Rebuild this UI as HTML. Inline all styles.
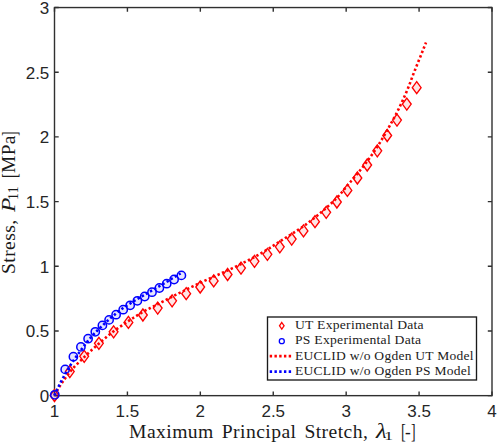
<!DOCTYPE html>
<html><head><meta charset="utf-8"><title>Stress-stretch</title>
<style>
html,body{margin:0;padding:0;background:#fff;}
body{width:498px;height:444px;position:relative;overflow:hidden;font-family:"Liberation Sans",sans-serif;color:#262626;}
.t{position:absolute;white-space:nowrap;line-height:1;}
.xt{font-size:17px;transform:translateX(-50%);top:403px;}
.yt{font-size:17px;text-align:right;right:448.7px;transform:translateY(-50%);}
.p{font-family:"Liberation Serif",serif;color:#1a1a1a;transform-origin:0 0;}
.p i{font-style:italic;}
#ylab{position:absolute;left:0;top:273px;width:160px;height:24px;transform:rotate(-90deg);transform-origin:0 0;}
</style></head><body>
<svg width="498" height="444" viewBox="0 0 498 444" style="position:absolute;left:0;top:0">
<rect x="0" y="0" width="498" height="444" fill="#fff"/>
<rect x="54.50" y="7.55" width="437.50" height="388.10" fill="none" stroke="#303030" stroke-width="1.4"/>
<path d="M54.50 395.65 v-4.20 M54.50 7.55 v4.20 M54.50 395.65 h4.20 M492.00 395.65 h-4.20 M127.42 395.65 v-4.20 M127.42 7.55 v4.20 M54.50 330.97 h4.20 M492.00 330.97 h-4.20 M200.33 395.65 v-4.20 M200.33 7.55 v4.20 M54.50 266.28 h4.20 M492.00 266.28 h-4.20 M273.25 395.65 v-4.20 M273.25 7.55 v4.20 M54.50 201.60 h4.20 M492.00 201.60 h-4.20 M346.17 395.65 v-4.20 M346.17 7.55 v4.20 M54.50 136.92 h4.20 M492.00 136.92 h-4.20 M419.08 395.65 v-4.20 M419.08 7.55 v4.20 M54.50 72.23 h4.20 M492.00 72.23 h-4.20 M492.00 395.65 v-4.20 M492.00 7.55 v4.20 M54.50 7.55 h4.20 M492.00 7.55 h-4.20" stroke="#303030" stroke-width="1.4" fill="none"/>
<path d="M54.50 389.50 L58.90 395.50 L54.50 401.50 L50.10 395.50 Z M69.80 365.60 L74.20 371.60 L69.80 377.60 L65.40 371.60 Z M84.20 350.30 L88.60 356.30 L84.20 362.30 L79.80 356.30 Z M98.90 337.30 L103.30 343.30 L98.90 349.30 L94.50 343.30 Z M113.60 325.80 L118.00 331.80 L113.60 337.80 L109.20 331.80 Z M128.40 316.40 L132.80 322.40 L128.40 328.40 L124.00 322.40 Z M142.90 309.00 L147.30 315.00 L142.90 321.00 L138.50 315.00 Z M157.70 302.10 L162.10 308.10 L157.70 314.10 L153.30 308.10 Z M172.10 294.80 L176.50 300.80 L172.10 306.80 L167.70 300.80 Z M186.20 287.70 L190.60 293.70 L186.20 299.70 L181.80 293.70 Z M200.20 281.00 L204.60 287.00 L200.20 293.00 L195.80 287.00 Z M213.70 274.90 L218.10 280.90 L213.70 286.90 L209.30 280.90 Z M227.60 268.50 L232.00 274.50 L227.60 280.50 L223.20 274.50 Z M241.00 262.10 L245.40 268.10 L241.00 274.10 L236.60 268.10 Z M254.50 255.30 L258.90 261.30 L254.50 267.30 L250.10 261.30 Z M267.40 248.30 L271.80 254.30 L267.40 260.30 L263.00 254.30 Z M279.80 240.80 L284.20 246.80 L279.80 252.80 L275.40 246.80 Z M291.70 233.10 L296.10 239.10 L291.70 245.10 L287.30 239.10 Z M303.50 224.90 L307.90 230.90 L303.50 236.90 L299.10 230.90 Z M315.00 215.70 L319.40 221.70 L315.00 227.70 L310.60 221.70 Z M326.20 206.30 L330.60 212.30 L326.20 218.30 L321.80 212.30 Z M336.90 196.00 L341.30 202.00 L336.90 208.00 L332.50 202.00 Z M347.40 184.40 L351.80 190.40 L347.40 196.40 L343.00 190.40 Z M357.40 172.00 L361.80 178.00 L357.40 184.00 L353.00 178.00 Z M367.20 159.00 L371.60 165.00 L367.20 171.00 L362.80 165.00 Z M377.30 144.80 L381.70 150.80 L377.30 156.80 L372.90 150.80 Z M387.20 129.50 L391.60 135.50 L387.20 141.50 L382.80 135.50 Z M397.00 114.10 L401.40 120.10 L397.00 126.10 L392.60 120.10 Z M406.80 98.10 L411.20 104.10 L406.80 110.10 L402.40 104.10 Z M416.70 81.70 L421.10 87.70 L416.70 93.70 L412.30 87.70 Z" fill="rgba(255,0,0,0.10)" stroke="#ff0000" stroke-width="1.35" stroke-linejoin="miter"/>
<circle cx="54.80" cy="394.80" r="4.15" fill="rgba(0,0,255,0.10)" stroke="#0000ff" stroke-width="1.5"/>
<circle cx="65.20" cy="369.40" r="4.15" fill="rgba(0,0,255,0.10)" stroke="#0000ff" stroke-width="1.5"/>
<circle cx="73.40" cy="356.70" r="4.15" fill="rgba(0,0,255,0.10)" stroke="#0000ff" stroke-width="1.5"/>
<circle cx="80.90" cy="346.90" r="4.15" fill="rgba(0,0,255,0.10)" stroke="#0000ff" stroke-width="1.5"/>
<circle cx="88.10" cy="338.70" r="4.15" fill="rgba(0,0,255,0.10)" stroke="#0000ff" stroke-width="1.5"/>
<circle cx="95.30" cy="331.80" r="4.15" fill="rgba(0,0,255,0.10)" stroke="#0000ff" stroke-width="1.5"/>
<circle cx="102.40" cy="325.40" r="4.15" fill="rgba(0,0,255,0.10)" stroke="#0000ff" stroke-width="1.5"/>
<circle cx="109.10" cy="319.90" r="4.15" fill="rgba(0,0,255,0.10)" stroke="#0000ff" stroke-width="1.5"/>
<circle cx="116.10" cy="314.70" r="4.15" fill="rgba(0,0,255,0.10)" stroke="#0000ff" stroke-width="1.5"/>
<circle cx="123.20" cy="309.70" r="4.15" fill="rgba(0,0,255,0.10)" stroke="#0000ff" stroke-width="1.5"/>
<circle cx="130.20" cy="305.30" r="4.15" fill="rgba(0,0,255,0.10)" stroke="#0000ff" stroke-width="1.5"/>
<circle cx="137.40" cy="300.80" r="4.15" fill="rgba(0,0,255,0.10)" stroke="#0000ff" stroke-width="1.5"/>
<circle cx="144.70" cy="296.50" r="4.15" fill="rgba(0,0,255,0.10)" stroke="#0000ff" stroke-width="1.5"/>
<circle cx="152.00" cy="292.20" r="4.15" fill="rgba(0,0,255,0.10)" stroke="#0000ff" stroke-width="1.5"/>
<circle cx="159.40" cy="288.00" r="4.15" fill="rgba(0,0,255,0.10)" stroke="#0000ff" stroke-width="1.5"/>
<circle cx="166.70" cy="283.70" r="4.15" fill="rgba(0,0,255,0.10)" stroke="#0000ff" stroke-width="1.5"/>
<circle cx="174.10" cy="279.50" r="4.15" fill="rgba(0,0,255,0.10)" stroke="#0000ff" stroke-width="1.5"/>
<circle cx="181.40" cy="275.40" r="4.15" fill="rgba(0,0,255,0.10)" stroke="#0000ff" stroke-width="1.5"/>
<path d="M54.50 395.50 L55.12 394.31 L55.76 393.12 L56.40 391.94 L57.06 390.77 L57.73 389.61 L58.41 388.46 L59.10 387.32 L59.80 386.18 L60.51 385.05 L61.23 383.93 L61.97 382.82 L62.71 381.72 L63.46 380.63 L64.21 379.54 L64.98 378.46 L65.76 377.39 L66.54 376.33 L67.33 375.28 L68.13 374.23 L68.93 373.20 L69.75 372.17 L70.57 371.15 L71.42 370.14 L72.29 369.15 L73.17 368.16 L74.07 367.19 L74.98 366.22 L75.90 365.26 L76.84 364.31 L77.78 363.37 L78.73 362.43 L79.68 361.49 L80.64 360.56 L81.60 359.63 L82.55 358.70 L83.51 357.78 L84.45 356.85 L85.41 355.93 L86.36 355.01 L87.32 354.09 L88.29 353.18 L89.26 352.28 L90.23 351.37 L91.21 350.48 L92.19 349.58 L93.18 348.69 L94.16 347.80 L95.15 346.91 L96.14 346.03 L97.14 345.15 L98.13 344.27 L99.13 343.40 L100.13 342.52 L101.13 341.65 L102.13 340.77 L103.13 339.90 L104.14 339.03 L105.15 338.17 L106.16 337.30 L107.17 336.45 L108.19 335.60 L109.22 334.75 L110.25 333.92 L111.29 333.09 L112.33 332.27 L113.38 331.47 L114.44 330.67 L115.50 329.89 L116.58 329.11 L117.66 328.34 L118.75 327.58 L119.84 326.83 L120.94 326.08 L122.04 325.34 L123.15 324.60 L124.25 323.86 L125.36 323.13 L126.47 322.40 L127.58 321.67 L128.69 320.94 L129.80 320.21 L130.91 319.48 L132.02 318.75 L133.13 318.02 L134.24 317.29 L135.36 316.57 L136.48 315.86 L137.60 315.15 L138.72 314.44 L139.86 313.75 L140.99 313.07 L142.14 312.40 L143.28 311.74 L144.44 311.09 L145.61 310.46 L146.78 309.84 L147.96 309.23 L149.14 308.63 L150.32 308.03 L151.51 307.43 L152.70 306.84 L153.89 306.24 L155.07 305.65 L156.26 305.04 L157.44 304.44 L158.61 303.82 L159.79 303.20 L160.96 302.58 L162.13 301.96 L163.31 301.34 L164.48 300.71 L165.65 300.09 L166.82 299.47 L168.00 298.84 L169.17 298.23 L170.35 297.61 L171.52 297.00 L172.70 296.39 L173.89 295.79 L175.07 295.19 L176.25 294.59 L177.44 293.99 L178.63 293.40 L179.81 292.81 L181.00 292.22 L182.19 291.63 L183.38 291.04 L184.57 290.45 L185.76 289.86 L186.95 289.28 L188.14 288.69 L189.33 288.10 L190.53 287.52 L191.72 286.93 L192.91 286.35 L194.10 285.77 L195.30 285.19 L196.49 284.61 L197.69 284.04 L198.89 283.47 L200.09 282.90 L201.29 282.34 L202.49 281.78 L203.70 281.22 L204.90 280.67 L206.11 280.12 L207.32 279.57 L208.53 279.03 L209.74 278.48 L210.95 277.94 L212.16 277.39 L213.37 276.85 L214.58 276.30 L215.80 275.76 L217.01 275.23 L218.22 274.69 L219.44 274.16 L220.65 273.62 L221.87 273.09 L223.08 272.55 L224.29 272.01 L225.50 271.46 L226.71 270.91 L227.91 270.35 L229.12 269.79 L230.32 269.22 L231.51 268.65 L232.71 268.08 L233.91 267.50 L235.10 266.92 L236.29 266.34 L237.48 265.75 L238.67 265.16 L239.86 264.57 L241.05 263.98 L242.23 263.38 L243.42 262.78 L244.60 262.19 L245.79 261.58 L246.97 260.98 L248.15 260.37 L249.33 259.76 L250.51 259.14 L251.68 258.52 L252.85 257.90 L254.01 257.27 L255.18 256.63 L256.34 255.98 L257.50 255.33 L258.65 254.68 L259.80 254.02 L260.95 253.35 L262.10 252.69 L263.24 252.01 L264.38 251.33 L265.52 250.65 L266.65 249.96 L267.78 249.26 L268.91 248.56 L270.03 247.85 L271.14 247.12 L272.25 246.40 L273.36 245.66 L274.46 244.93 L275.57 244.20 L276.68 243.46 L277.79 242.73 L278.90 242.01 L280.02 241.30 L281.14 240.59 L282.27 239.88 L283.39 239.18 L284.52 238.48 L285.65 237.79 L286.78 237.09 L287.91 236.39 L289.03 235.69 L290.16 234.98 L291.28 234.27 L292.40 233.55 L293.52 232.84 L294.63 232.12 L295.75 231.41 L296.87 230.69 L297.98 229.96 L299.09 229.24 L300.20 228.50 L301.30 227.76 L302.39 227.01 L303.48 226.25 L304.55 225.47 L305.63 224.69 L306.69 223.90 L307.75 223.11 L308.81 222.30 L309.86 221.49 L310.91 220.67 L311.95 219.85 L312.99 219.03 L314.03 218.20 L315.07 217.37 L316.10 216.53 L317.12 215.69 L318.15 214.85 L319.17 213.99 L320.18 213.14 L321.19 212.28 L322.20 211.41 L323.21 210.55 L324.21 209.67 L325.20 208.80 L326.19 207.92 L327.19 207.03 L328.18 206.15 L329.17 205.27 L330.16 204.38 L331.14 203.48 L332.12 202.58 L333.09 201.67 L334.05 200.76 L335.00 199.83 L335.94 198.89 L336.85 197.94 L337.76 196.98 L338.64 196.00 L339.52 195.00 L340.38 193.99 L341.24 192.98 L342.09 191.96 L342.93 190.93 L343.77 189.90 L344.61 188.87 L345.46 187.84 L346.30 186.81 L347.15 185.79 L348.01 184.78 L348.87 183.77 L349.73 182.76 L350.60 181.75 L351.46 180.74 L352.32 179.73 L353.18 178.72 L354.04 177.71 L354.90 176.69 L355.75 175.68 L356.60 174.66 L357.44 173.63 L358.28 172.60 L359.12 171.58 L359.96 170.55 L360.79 169.51 L361.63 168.48 L362.46 167.44 L363.28 166.40 L364.10 165.36 L364.92 164.31 L365.73 163.26 L366.53 162.20 L367.32 161.14 L368.11 160.07 L368.89 159.00 L369.67 157.93 L370.44 156.85 L371.21 155.76 L371.98 154.68 L372.74 153.59 L373.49 152.49 L374.24 151.40 L374.98 150.30 L375.72 149.19 L376.45 148.08 L377.17 146.97 L377.89 145.86 L378.60 144.74 L379.30 143.62 L380.00 142.49 L380.69 141.36 L381.38 140.22 L382.06 139.08 L382.74 137.94 L383.41 136.79 L384.08 135.65 L384.75 134.50 L385.41 133.35 L386.07 132.19 L386.73 131.04 L387.38 129.89 L388.04 128.73 L388.69 127.58 L389.35 126.42 L390.00 125.26 L390.65 124.11 L391.29 122.95 L391.94 121.78 L392.58 120.62 L393.22 119.46 L393.85 118.29 L394.48 117.12 L395.10 115.95 L395.72 114.77 L396.33 113.59 L396.94 112.41 L397.54 111.23 L398.13 110.04 L398.71 108.85 L399.29 107.66 L399.87 106.47 L400.44 105.27 L401.01 104.07 L401.58 102.87 L402.14 101.66 L402.69 100.46 L403.24 99.25 L403.79 98.04 L404.33 96.82 L404.87 95.61 L405.40 94.39 L405.93 93.17 L406.45 91.95 L406.97 90.73 L407.48 89.51 L407.99 88.28 L408.49 87.06 L408.97 85.82 L409.45 84.58 L409.92 83.34 L410.38 82.10 L410.84 80.85 L411.30 79.61 L411.76 78.36 L412.23 77.12 L412.69 75.87 L413.16 74.63 L413.64 73.39 L414.13 72.16 L414.61 70.92 L415.11 69.69 L415.60 68.46 L416.09 67.23 L416.59 66.00 L417.09 64.77 L417.59 63.54 L418.08 62.31 L418.58 61.08 L419.08 59.84 L419.57 58.61 L420.07 57.38 L420.56 56.15 L421.06 54.92 L421.55 53.69 L422.05 52.45 L422.54 51.22 L423.03 49.99 L423.53 48.76 L424.02 47.53 L424.52 46.30 L425.01 45.06 L425.51 43.83 L426.00 42.60" fill="none" stroke="#ff0000" stroke-width="2.6" stroke-dasharray="2.4 2.4"/>
<path d="M54.50 395.50 L54.68 395.08 L54.86 394.67 L55.04 394.25 L55.22 393.84 L55.40 393.43 L55.58 393.01 L55.76 392.60 L55.95 392.19 L56.13 391.78 L56.32 391.36 L56.51 390.95 L56.69 390.54 L56.88 390.13 L57.07 389.72 L57.26 389.31 L57.45 388.91 L57.65 388.50 L57.84 388.09 L58.03 387.68 L58.23 387.28 L58.43 386.87 L58.62 386.47 L58.82 386.06 L59.02 385.66 L59.22 385.25 L59.42 384.85 L59.62 384.45 L59.82 384.04 L60.02 383.64 L60.22 383.24 L60.43 382.84 L60.63 382.44 L60.84 382.04 L61.04 381.64 L61.25 381.24 L61.46 380.84 L61.67 380.44 L61.87 380.04 L62.08 379.64 L62.29 379.24 L62.50 378.85 L62.72 378.45 L62.93 378.05 L63.14 377.66 L63.35 377.26 L63.57 376.87 L63.78 376.47 L64.00 376.08 L64.21 375.69 L64.43 375.29 L64.65 374.90 L64.86 374.51 L65.08 374.11 L65.30 373.72 L65.52 373.33 L65.74 372.94 L65.96 372.55 L66.19 372.16 L66.41 371.77 L66.64 371.38 L66.87 371.00 L67.10 370.61 L67.33 370.22 L67.56 369.84 L67.79 369.45 L68.03 369.06 L68.26 368.68 L68.50 368.30 L68.74 367.91 L68.97 367.53 L69.21 367.15 L69.45 366.77 L69.69 366.39 L69.94 366.00 L70.18 365.62 L70.42 365.24 L70.67 364.86 L70.91 364.49 L71.15 364.11 L71.40 363.73 L71.65 363.35 L71.89 362.98 L72.14 362.60 L72.39 362.22 L72.64 361.85 L72.89 361.47 L73.13 361.10 L73.38 360.72 L73.63 360.35 L73.89 359.98 L74.14 359.61 L74.39 359.23 L74.65 358.86 L74.90 358.49 L75.16 358.12 L75.42 357.76 L75.68 357.39 L75.94 357.02 L76.20 356.65 L76.46 356.29 L76.72 355.92 L76.98 355.55 L77.25 355.19 L77.51 354.82 L77.78 354.46 L78.04 354.09 L78.31 353.73 L78.57 353.37 L78.84 353.00 L79.10 352.64 L79.37 352.28 L79.64 351.91 L79.91 351.55 L80.17 351.19 L80.44 350.83 L80.71 350.46 L80.97 350.10 L81.24 349.74 L81.51 349.38 L81.77 349.01 L82.04 348.65 L82.31 348.29 L82.57 347.92 L82.84 347.56 L83.11 347.20 L83.37 346.83 L83.64 346.47 L83.91 346.11 L84.18 345.75 L84.45 345.39 L84.72 345.03 L84.99 344.67 L85.26 344.31 L85.53 343.95 L85.81 343.59 L86.08 343.24 L86.36 342.88 L86.64 342.53 L86.91 342.17 L87.19 341.82 L87.47 341.47 L87.76 341.12 L88.04 340.77 L88.33 340.42 L88.61 340.08 L88.90 339.73 L89.19 339.39 L89.48 339.05 L89.77 338.70 L90.07 338.36 L90.36 338.02 L90.66 337.68 L90.95 337.34 L91.25 337.00 L91.55 336.66 L91.85 336.33 L92.15 335.99 L92.45 335.66 L92.76 335.32 L93.06 334.99 L93.37 334.66 L93.67 334.33 L93.98 334.00 L94.29 333.67 L94.59 333.34 L94.90 333.02 L95.21 332.69 L95.52 332.37 L95.84 332.04 L96.15 331.72 L96.47 331.40 L96.79 331.09 L97.11 330.77 L97.43 330.45 L97.75 330.14 L98.07 329.82 L98.40 329.51 L98.72 329.20 L99.05 328.89 L99.37 328.58 L99.70 328.27 L100.02 327.96 L100.35 327.65 L100.68 327.34 L101.01 327.03 L101.33 326.72 L101.66 326.41 L101.99 326.10 L102.31 325.78 L102.64 325.47 L102.96 325.16 L103.29 324.85 L103.61 324.54 L103.94 324.23 L104.26 323.91 L104.59 323.60 L104.91 323.29 L105.24 322.98 L105.56 322.67 L105.89 322.36 L106.22 322.05 L106.55 321.74 L106.87 321.43 L107.20 321.13 L107.53 320.82 L107.86 320.52 L108.20 320.21 L108.53 319.91 L108.86 319.61 L109.20 319.31 L109.54 319.01 L109.87 318.72 L110.21 318.42 L110.55 318.12 L110.89 317.83 L111.24 317.54 L111.58 317.24 L111.92 316.95 L112.26 316.66 L112.61 316.37 L112.95 316.08 L113.30 315.79 L113.65 315.51 L113.99 315.22 L114.34 314.93 L114.69 314.65 L115.04 314.36 L115.39 314.08 L115.74 313.79 L116.09 313.51 L116.44 313.23 L116.79 312.94 L117.14 312.66 L117.49 312.38 L117.84 312.10 L118.19 311.81 L118.54 311.53 L118.90 311.25 L119.25 310.97 L119.60 310.69 L119.96 310.42 L120.31 310.14 L120.67 309.86 L121.03 309.59 L121.39 309.32 L121.75 309.05 L122.11 308.78 L122.47 308.52 L122.84 308.26 L123.20 308.00 L123.57 307.74 L123.94 307.49 L124.32 307.23 L124.69 306.98 L125.07 306.74 L125.44 306.49 L125.82 306.25 L126.20 306.01 L126.58 305.77 L126.96 305.53 L127.35 305.29 L127.73 305.05 L128.11 304.81 L128.49 304.57 L128.88 304.33 L129.26 304.09 L129.64 303.85 L130.02 303.61 L130.40 303.37 L130.78 303.13 L131.16 302.89 L131.54 302.65 L131.92 302.41 L132.30 302.17 L132.68 301.93 L133.06 301.69 L133.44 301.45 L133.83 301.21 L134.21 300.97 L134.59 300.73 L134.97 300.49 L135.35 300.26 L135.74 300.02 L136.12 299.78 L136.50 299.55 L136.89 299.31 L137.27 299.08 L137.66 298.84 L138.04 298.61 L138.43 298.38 L138.81 298.15 L139.20 297.92 L139.59 297.69 L139.98 297.46 L140.37 297.23 L140.75 297.01 L141.14 296.78 L141.53 296.55 L141.92 296.33 L142.31 296.10 L142.70 295.87 L143.09 295.65 L143.48 295.42 L143.86 295.19 L144.25 294.96 L144.64 294.73 L145.03 294.51 L145.42 294.28 L145.80 294.05 L146.19 293.82 L146.58 293.59 L146.97 293.36 L147.35 293.13 L147.74 292.90 L148.13 292.67 L148.52 292.44 L148.90 292.21 L149.29 291.98 L149.68 291.76 L150.07 291.53 L150.45 291.30 L150.84 291.07 L151.23 290.85 L151.62 290.62 L152.01 290.39 L152.40 290.17 L152.79 289.95 L153.18 289.72 L153.57 289.50 L153.97 289.28 L154.36 289.06 L154.75 288.84 L155.14 288.62 L155.54 288.40 L155.93 288.18 L156.32 287.96 L156.71 287.74 L157.11 287.52 L157.50 287.29 L157.89 287.07 L158.28 286.85 L158.67 286.62 L159.06 286.40 L159.45 286.17 L159.84 285.94 L160.22 285.71 L160.61 285.49 L161.00 285.25 L161.38 285.02 L161.77 284.79 L162.16 284.56 L162.54 284.33 L162.93 284.09 L163.31 283.86 L163.70 283.63 L164.08 283.39 L164.47 283.16 L164.85 282.92 L165.23 282.69 L165.62 282.46 L166.00 282.22 L166.39 281.99 L166.77 281.76 L167.16 281.52 L167.54 281.29 L167.93 281.06 L168.31 280.82 L168.70 280.59 L169.08 280.36 L169.47 280.12 L169.85 279.89 L170.24 279.65 L170.62 279.42 L171.01 279.19 L171.39 278.95 L171.78 278.72 L172.16 278.48 L172.55 278.25 L172.93 278.02 L173.31 277.78 L173.70 277.55 L174.08 277.31 L174.47 277.08 L174.85 276.84 L175.23 276.61 L175.62 276.37 L176.00 276.13 L176.38 275.90 L176.77 275.66 L177.15 275.43 L177.54 275.19 L177.92 274.96 L178.30 274.72 L178.69 274.48 L179.07 274.25 L179.45 274.01 L179.83 273.77 L180.22 273.54 L180.60 273.30" fill="none" stroke="#0000ff" stroke-width="2.6" stroke-dasharray="2.4 2.4"/>
<rect x="267.50" y="317.00" width="209.00" height="63.00" fill="#fff" stroke="#1a1a1a" stroke-width="1.35"/>
<path d="M281.80 322.50 L284.10 325.80 L281.80 329.10 L279.50 325.80 Z" fill="none" stroke="#ff0000" stroke-width="1.3"/>
<circle cx="281.8" cy="341.2" r="2.5" fill="none" stroke="#0000ff" stroke-width="1.3"/>
<path d="M269.7 356.1 H291.5" fill="none" stroke="#ff0000" stroke-width="2.6" stroke-dasharray="2.4 2.35"/>
<path d="M269.7 371.6 H291.5" fill="none" stroke="#0000ff" stroke-width="2.6" stroke-dasharray="2.4 2.35"/>
</svg>
<div class="t xt" style="left:54.50px">1</div>
<div class="t xt" style="left:127.42px">1.5</div>
<div class="t xt" style="left:200.33px">2</div>
<div class="t xt" style="left:273.25px">2.5</div>
<div class="t xt" style="left:346.17px">3</div>
<div class="t xt" style="left:419.08px">3.5</div>
<div class="t xt" style="left:492.00px">4</div>
<div class="t yt" style="top:396.15px">0</div>
<div class="t yt" style="top:331.47px">0.5</div>
<div class="t yt" style="top:266.78px">1</div>
<div class="t yt" style="top:202.10px">1.5</div>
<div class="t yt" style="top:137.42px">2</div>
<div class="t yt" style="top:72.73px">2.5</div>
<div class="t yt" style="top:8.05px">3</div>
<div class="t p" id="lg0" style="left:295.15px;top:318.00px;font-size:13px;letter-spacing:0.25px;transform:scaleX(1.0467);">UT Experimental Data</div>
<div class="t p" id="lg1" style="left:295.15px;top:333.00px;font-size:13px;letter-spacing:0.25px;transform:scaleX(1.0487);">PS Experimental Data</div>
<div class="t p" id="lg2" style="left:295.16px;top:349.00px;font-size:13px;letter-spacing:0.25px;transform:scaleX(1.0388);">EUCLID w/o Ogden UT Model</div>
<div class="t p" id="lg3" style="left:295.16px;top:364.00px;font-size:13px;letter-spacing:0.25px;transform:scaleX(1.0389);">EUCLID w/o Ogden PS Model</div>
<div class="t p" id="x_main" style="left:129.24px;top:423.00px;font-size:18.5px;letter-spacing:0.4px;transform:scaleX(1.0610);"><span style="word-spacing:2.5px">Maximum Principal Stretch,</span></div>
<div class="t p" id="x_lam" style="left:376.49px;top:420.60px;font-size:25px;letter-spacing:0px;transform:scale(0.9909,0.8300);"><i>&lambda;</i></div>
<div class="t p" id="x_sub" style="left:384.47px;top:429.00px;font-size:13.5px;letter-spacing:0px;transform:scaleX(1.3667);">1</div>
<div class="t p" id="x_bl" style="left:401.23px;top:420.40px;font-size:18.5px;letter-spacing:0px;transform:scale(0.7750,1.1700);">[</div>
<div class="t p" id="x_hy" style="left:405.08px;top:423.00px;font-size:18.5px;letter-spacing:0px;transform:scaleX(0.9200);">-</div>
<div class="t p" id="x_bR" style="left:410.95px;top:420.40px;font-size:18.5px;letter-spacing:0px;transform:scale(0.7500,1.1700);">]</div>
<div id="ylab">
<div class="t p" id="y_main" style="left:-0.76px;top:-0.40px;font-size:18.5px;letter-spacing:0.4px;transform:scaleX(1.0571);">Stress,</div>
<div class="t p" id="y_P" style="left:60.80px;top:-0.40px;font-size:18.5px;letter-spacing:0px;transform:scaleX(1.2636);"><i>P</i></div>
<div class="t p" id="y_sub" style="left:72.62px;top:7.20px;font-size:14px;letter-spacing:0.3px;transform:scaleX(0.9900);">11</div>
<div class="t p" id="y_bl" style="left:94.82px;top:-2.20px;font-size:18.5px;letter-spacing:0px;transform:scale(0.7750,1.1700);">[</div>
<div class="t p" id="y_mpa" style="left:99.65px;top:-0.40px;font-size:18.5px;letter-spacing:0.4px;transform:scaleX(1.0471);">MPa</div>
<div class="t p" id="y_bR" style="left:137.35px;top:-2.20px;font-size:18.5px;letter-spacing:0px;transform:scale(0.7500,1.1700);">]</div>
</div>
</body></html>
